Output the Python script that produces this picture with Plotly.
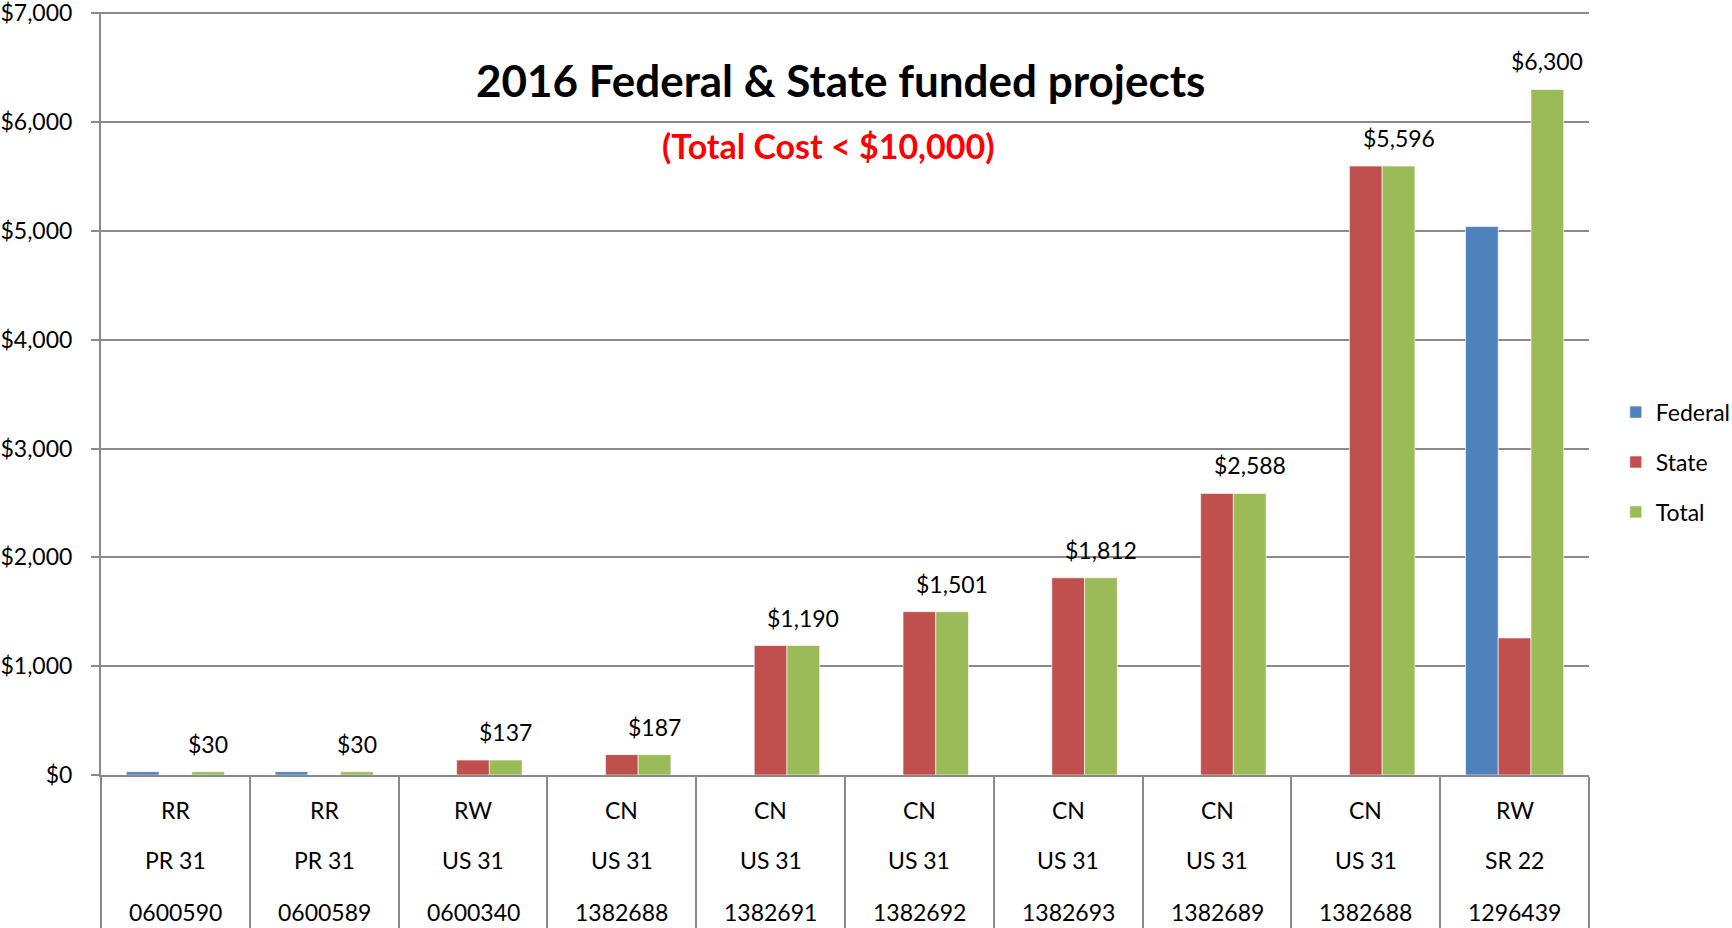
import plotly.graph_objects as go

# ---- data ----
work_types = ["RR", "RR", "RW", "CN", "CN", "CN", "CN", "CN", "CN", "RW"]
routes = ["PR 31", "PR 31", "US 31", "US 31", "US 31", "US 31", "US 31", "US 31", "US 31", "SR 22"]
project_ids = ["0600590", "0600589", "0600340", "1382688", "1382691", "1382692",
               "1382693", "1382689", "1382688", "1296439"]
federal = [30, 30, 0, 0, 0, 0, 0, 0, 0, 5040]
state = [0, 0, 137, 187, 1190, 1501, 1812, 2588, 5596, 1260]
total = [30, 30, 137, 187, 1190, 1501, 1812, 2588, 5596, 6300]
y_ticks = [0, 1000, 2000, 3000, 4000, 5000, 6000, 7000]
y_tick_labels = [f"${v:,}" for v in y_ticks]

title_text = "2016 Federal & State funded projects"
subtitle_text = "(Total Cost < $10,000)"

# category keys (unique, index based)
cats = [f"{w}|{r}|{p}|{i}" for i, (w, r, p) in enumerate(zip(work_types, routes, project_ids))]

FONT = "Lato"
GRID = "#8a8a8a"
colors = {"Federal": "#4F81BD", "State": "#C0504D", "Total": "#9BBB59"}

W, H = 1732, 928
ML, MR, MT, MB = 101, 143, 12, 153
BARGAP = 0.34
plot_w = W - ML - MR
plot_h = H - MT - MB
cat_px = plot_w / len(cats)
bar_px = cat_px * (1 - BARGAP) / 3  # offset of the 3rd bar centre from the category centre

fig = go.Figure()
for name, vals in [("Federal", federal), ("State", state), ("Total", total)]:
    fig.add_trace(go.Bar(x=cats, y=vals, name=name, legendgroup=name,
                         marker=dict(color=colors[name], line=dict(color="rgba(255,255,255,0.6)", width=1))))

ann = []
# data labels on Total bars
for c, v in zip(cats, total):
    ann.append(dict(x=c, xref="x", y=v, yref="y", yanchor="bottom", xshift=bar_px, yshift=12,
                    text=f"${v:,}", showarrow=False, font=dict(family=FONT, size=23, color="black")))

# category labels (three rows)
for c, w, r, p in zip(cats, work_types, routes, project_ids):
    for txt, shift in [(w, -35), (r, -85), (p, -137)]:
        ann.append(dict(x=c, xref="x", y=0, yref="paper", yanchor="middle", yshift=shift,
                        text=txt, showarrow=False, font=dict(family=FONT, size=23, color="black")))

ann.append(dict(x=0.497, xref="paper", y=1 - (80 - MT) / plot_h, yref="paper", yanchor="middle",
                text=f"<b>{title_text}</b>",
                showarrow=False, font=dict(family=FONT, size=44, color="black")))
ann.append(dict(x=0.489, xref="paper", y=1 - (145 - MT) / plot_h, yref="paper", yanchor="middle",
                text=f"<b>{subtitle_text}</b>",
                showarrow=False, font=dict(family=FONT, size=34, color="#FF0000")))

fig.update_layout(
    template="none",
    width=W, height=H,
    margin=dict(l=ML, r=MR, t=MT, b=MB, autoexpand=False),
    paper_bgcolor="white", plot_bgcolor="white",
    barmode="group", bargap=BARGAP, bargroupgap=0,
    font=dict(family=FONT, size=23, color="black"),
    showlegend=True,
    legend=dict(x=1.018, xanchor="left", y=0.41, yanchor="middle",
                traceorder="grouped", tracegroupgap=17,
                font=dict(family=FONT, size=23, color="black"),
                bgcolor="rgba(0,0,0,0)"),
    annotations=ann,
)
fig.update_xaxes(type="category", showticklabels=False, tickson="boundaries", automargin=False,
                 ticks="outside", ticklen=160, tickwidth=2, tickcolor=GRID,
                 showline=True, linecolor=GRID, linewidth=2, showgrid=False)
fig.update_yaxes(range=[0, 7012], tickmode="array", tickvals=y_ticks, ticktext=y_tick_labels,
                 automargin=False, ticklabeloverflow="allow",
                 showgrid=True, gridcolor=GRID, gridwidth=2, zeroline=False,
                 showline=True, linecolor=GRID, linewidth=2,
                 ticks="outside", ticklen=8, tickwidth=2, tickcolor=GRID,
                 ticklabelstandoff=14, tickfont=dict(family=FONT, size=23, color="black"))

fig.write_html("out.html", config={"displayModeBar": False},
               post_script="document.body.style.margin='0';document.body.style.overflow='hidden';")
